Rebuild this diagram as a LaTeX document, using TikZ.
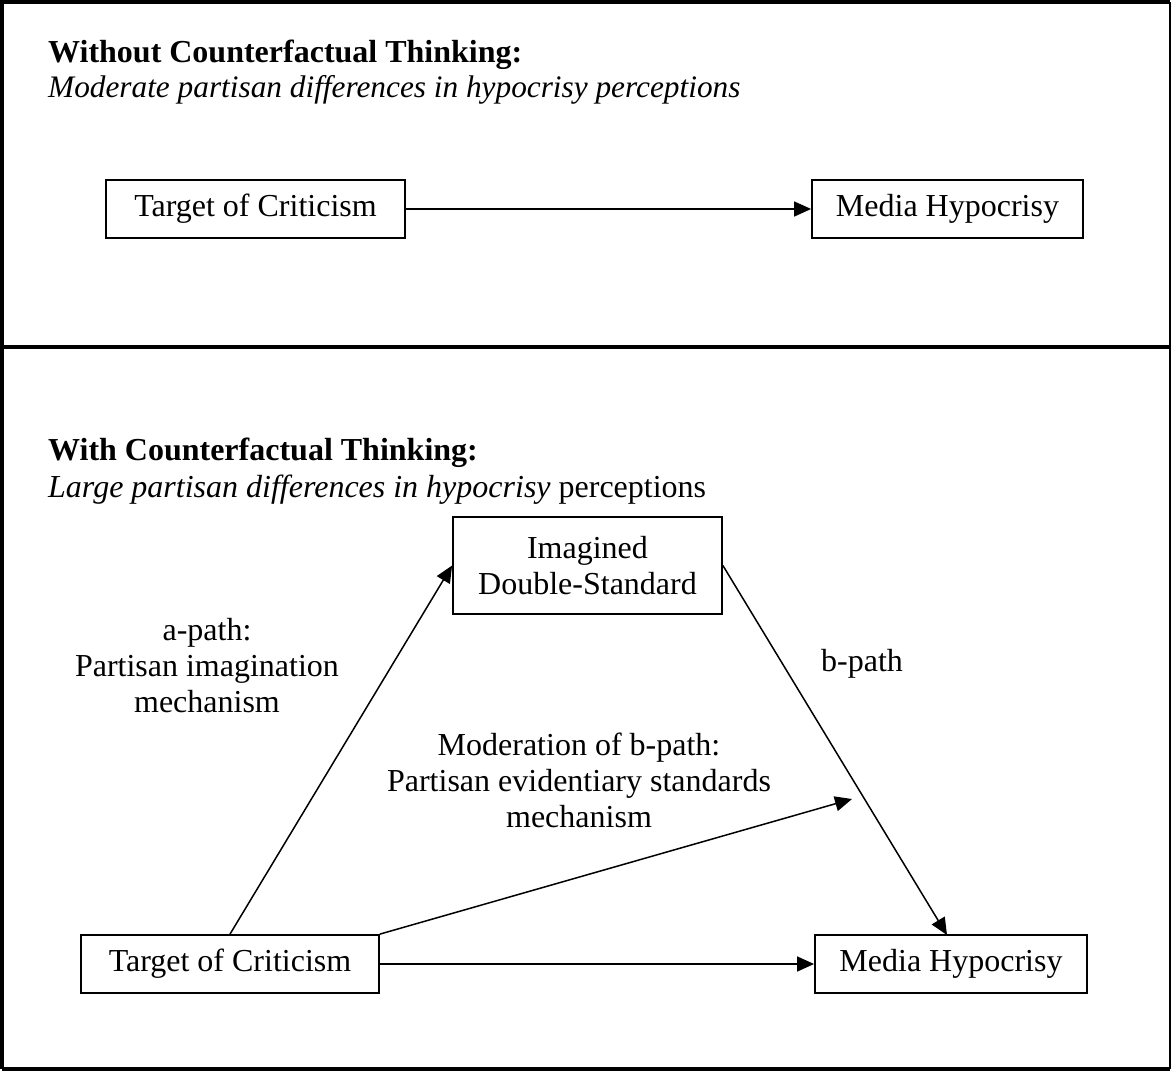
\documentclass[tikz,border=0pt]{standalone}
\usepackage{fontspec}
\setmainfont{Liberation Serif}
\usetikzlibrary{arrows.meta}
\begin{document}
\begin{tikzpicture}[x=1pt,y=-1pt,
  every node/.style={font=\fontsize{32}{36}\selectfont},
  boxnode/.style={draw,line width=1.8pt,inner sep=0pt,align=center},
  lbl/.style={align=center,inner sep=0pt},
  arr/.style={line width=1.5pt,-{Triangle[length=17pt,width=15pt]}}]
\useasboundingbox (0,0) rectangle (1172,1071);
% frames
\draw[line width=4pt] (2,1069) -- (2,2) -- (1170,2);
\draw[line width=4pt] (2,1069) -- (1170,1069);
\draw[line width=2pt] (1170,2) -- (1170,1069);
\draw[line width=4pt] (2,347) -- (1170,347);
% top panel
\node[anchor=base west,inner sep=0pt] (h1) at (48,62) {\textbf{Without Counterfactual Thinking:}};
\node[anchor=base west,inner sep=0pt,font=\fontsize{31.3}{36}\selectfont] (s1) at (48,97) {\textit{Moderate partisan differences in hypocrisy perceptions}};
\node[boxnode,minimum width=299pt,minimum height=58pt] (t1) at (255.5,209) {Target of Criticism};
\node[boxnode,minimum width=271pt,minimum height=58pt] (t2) at (947.5,209) {Media Hypocrisy};
\draw[arr] (t1.east) -- (t2.west);
% bottom panel
\node[anchor=base west,inner sep=0pt] (h2) at (48,460) {\textbf{With Counterfactual Thinking:}};
\node[anchor=base west,inner sep=0pt] (s2) at (48,497) {\textit{Large partisan differences in hypocrisy} perceptions};
\node[boxnode,minimum width=269pt,minimum height=97pt] (ids) at (587.5,565.5) {Imagined\\Double-Standard};
\node[boxnode,minimum width=298pt,minimum height=58pt] (b1) at (230,964) {Target of Criticism};
\node[boxnode,minimum width=272pt,minimum height=58pt] (b2) at (951,964) {Media Hypocrisy};
\coordinate (modend) at (852,799);
\coordinate (btip) at (947,935);
\draw[arr] (b1.north) -- (ids.west);
\draw[arr] (ids.east) -- (btip);
\draw[arr] (b1.north east) -- (modend);
\draw[arr] (b1.east) -- (b2.west);
\node[lbl] (la) at (207,666) {a-path:\\Partisan imagination\\mechanism};
\node[lbl] (lb) at (862,664) {b-path};
\node[lbl] (lm) at (579,780) {Moderation of b-path:\\Partisan evidentiary standards\\mechanism};
\end{tikzpicture}
\end{document}
